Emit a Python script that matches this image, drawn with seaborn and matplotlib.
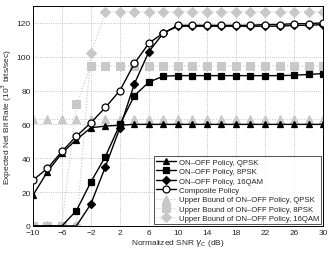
import numpy as np
import pandas as pd
import matplotlib
matplotlib.use("Agg")
import matplotlib.pyplot as plt
import seaborn as sns

# SNR grid (dB)
snr = list(range(-10, 31, 2))

# ON-OFF policies
qpsk = [18, 32, 43, 51, 58, 59, 59.5, 60, 60, 60, 60, 60, 60, 60, 60, 60, 60, 60, 60, 60, 60]
psk8 = [0, 0, 0, 9, 26, 41, 60, 77, 85, 88.5, 88.8, 88.8, 88.8, 88.8, 88.8, 88.8, 88.8, 88.8, 89, 89.5, 90]
qam16 = [0, 0, 0, 0, 13, 35, 58, 84, 103, 114, 118, 118, 118, 118, 118, 118, 118, 118, 118.5, 118.5, 119]
composite = [27, 34, 44, 53, 61, 70, 80, 96, 108, 114, 118.5, 118.5, 118.5, 118.5, 118.5, 118.5, 119, 119, 119.5, 119.5, 120]

# upper bounds
ub_qpsk = [63] * 21
ub_psk8 = [0, 0, 0, 72, 94.5] + [94.5] * 16
ub_qam16 = [0, 0, 0, 0, 102] + [126.5] * 16

sns.set_style("white")
plt.rcParams["font.family"] = ["Liberation Sans", "DejaVu Sans"]
plt.rcParams["mathtext.fontset"] = "dejavusans"

fig = plt.figure(figsize=(3.32, 2.55), dpi=100)
ax = fig.add_axes([0.099, 0.110, 0.874, 0.863])

gray = "#c8c8c8"
bounds = [
    (ub_qpsk, "^", "Upper Bound of ON\u2013OFF Policy, QPSK"),
    (ub_psk8, "s", "Upper Bound of ON\u2013OFF Policy, 8PSK"),
    (ub_qam16, "D", "Upper Bound of ON\u2013OFF Policy, 16QAM"),
]
policies = [
    (qpsk, "^", "black", "ON\u2013OFF Policy, QPSK", 5),
    (psk8, "s", "black", "ON\u2013OFF Policy, 8PSK", 4.5),
    (qam16, "D", "black", "ON\u2013OFF Policy, 16QAM", 4),
    (composite, "o", "white", "Composite Policy", 5),
]

for vals, m, fc, lab, ms in policies:
    # zero-rate points sit under the grey bound markers on the axis
    shown = [i for i, v in enumerate(vals) if v > 0]
    sns.lineplot(x=snr, y=vals, ax=ax, color="black", linewidth=1.0,
                 marker=m, markersize=ms, markerfacecolor=fc, markeredgecolor="black",
                 markeredgewidth=0.9, markevery=shown, label=lab, zorder=3)
for vals, m, lab in bounds:
    sns.lineplot(x=snr, y=vals, ax=ax, color=gray, linestyle=":", linewidth=0.8,
                 marker=m, markersize=5.5, markerfacecolor=gray, markeredgecolor=gray,
                 label=lab, zorder=2)

leg = ax.legend(loc="lower right", fontsize=5.6, frameon=True, fancybox=False,
                edgecolor="black", borderpad=0.3, labelspacing=0.25, handlelength=2.6,
                handletextpad=0.3, borderaxespad=0.2)
leg.get_frame().set_linewidth(0.6)
for lh in leg.legend_handles[:4]:
    lh.set_markevery([1])

ax.set_xlim(-10, 30)
ax.set_ylim(0, 130)
ax.set_xticks(range(-10, 31, 4))
ax.set_yticks(range(0, 121, 20))
ax.set_xticklabels(["\u221210", "\u22126", "\u22122", "2", "6", "10", "14", "18", "22", "26", "30"])
ax.grid(True, linestyle=":", color="#b0b0b0", linewidth=0.6)
ax.tick_params(direction="in", labelsize=6, length=2.5, width=0.6, pad=1.5)
ax.tick_params(axis="x", pad=2.2)
for s in ax.spines.values():
    s.set_linewidth(0.7)
    s.set_color("black")
ax.set_xlabel("Normalized SNR $\\gamma_C$ (dB)", fontsize=6, labelpad=1)
ax.set_ylabel("Expected Net Bit Rate (10$^3$ bits/sec)", fontsize=6, labelpad=2)

fig.savefig("out.png", dpi=100)
